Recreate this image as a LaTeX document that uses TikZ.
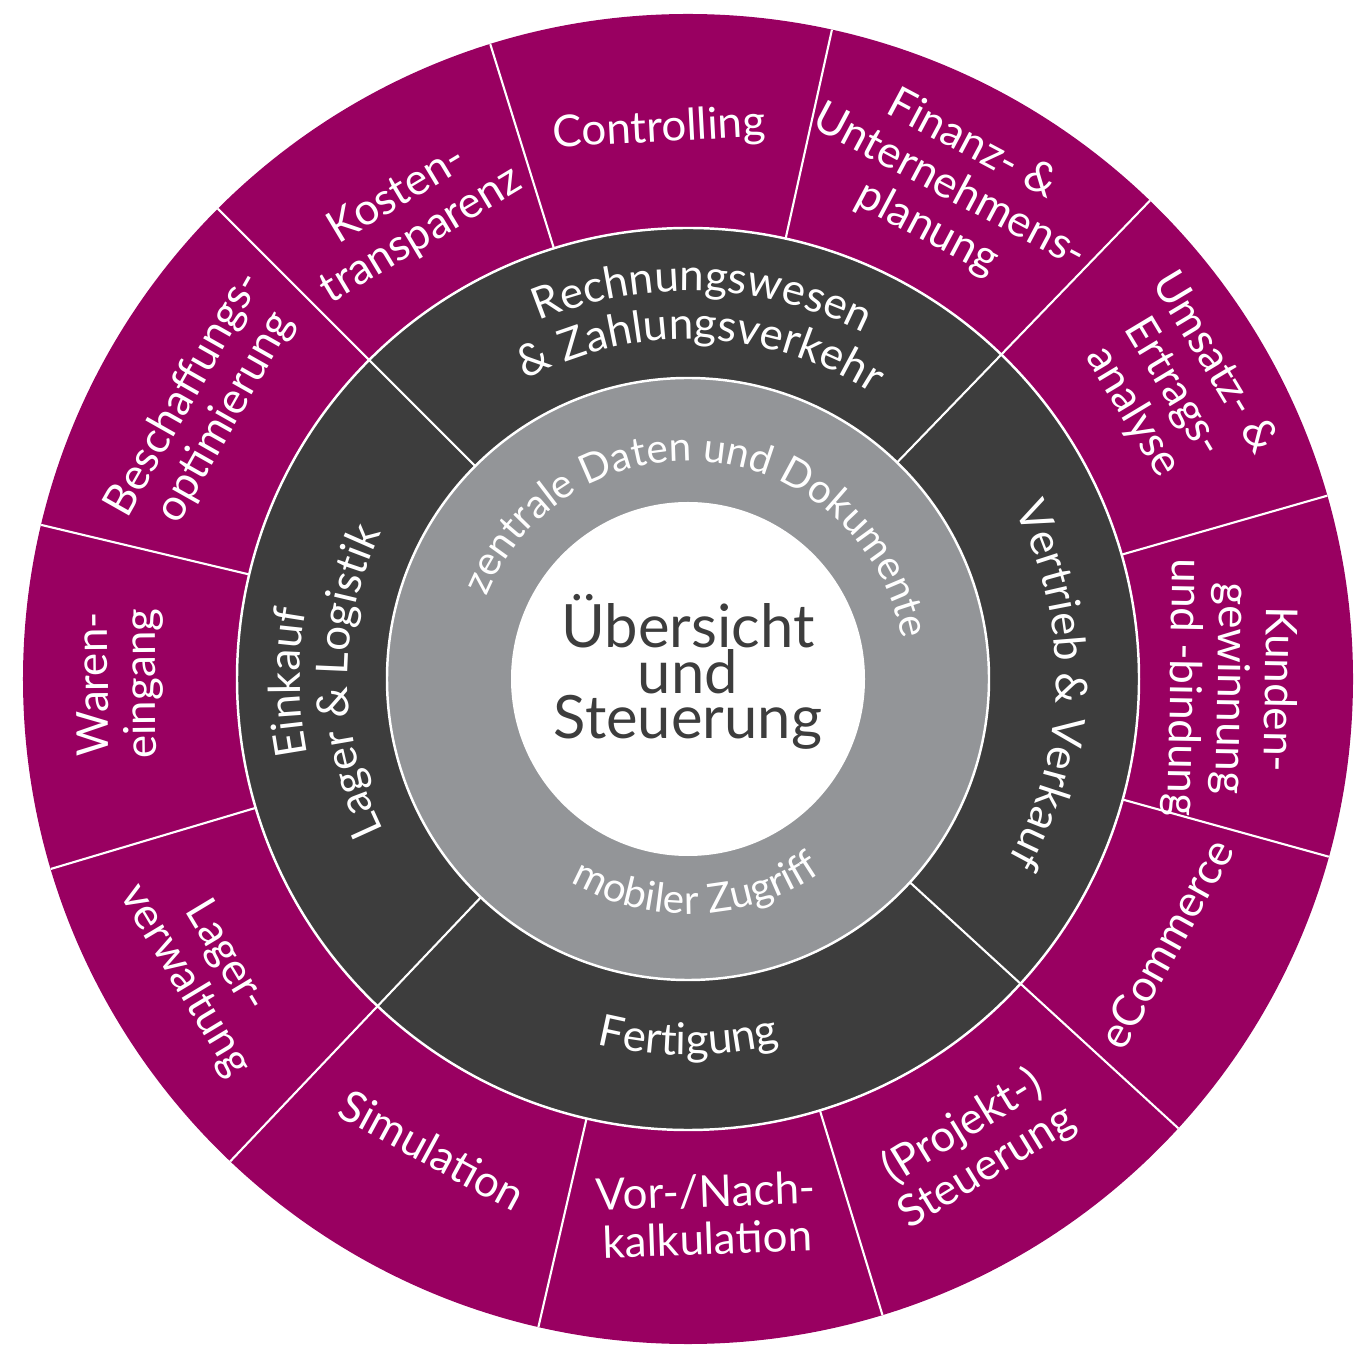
\documentclass[tikz,border=0pt]{standalone}
\usepackage{fontspec}
\setmainfont{Lato}
\definecolor{erpmagenta}{RGB}{153,0,97}
\definecolor{erpdark}{RGB}{61,61,61}
\definecolor{erpgray}{RGB}{147,149,152}
\newcommand{\RadCore}{1.77}
\newcommand{\RadData}{3.01}
\newcommand{\RadArea}{4.51}
\newcommand{\RadTask}{6.65}
\newcommand{\LabelFont}{\fontsize{12.5}{13.5}\selectfont}
\newcommand{\DataFont}{\fontsize{11.5}{14}\selectfont}

% text set letter by letter on an arc round the centre
% #1 font, #2 radius, #3 middle angle, #4 1 = clockwise / -1 = counterclockwise, #5 text (~ for spaces)
\newlength{\ArcCharWd}
\def\ArcEnd{\ArcEnd}
\def\ArcMeasure#1{\pgfinterruptpicture\setbox0=\hbox{\ArcFont#1}\global\ArcCharWd=\wd0\endpgfinterruptpicture}
\newcommand{\ArcText}[5]{%
  \def\ArcFont{#1}\def\ArcRad{#2}\def\ArcDir{#4}%
  \ArcMeasure{#5}%
  \pgfmathsetmacro{\ArcAngle}{#3 + #4*deg(\ArcCharWd/(#2*28.45274))/2}%
  \ArcNext#5\ArcEnd}
\def\ArcNext#1{\ifx#1\ArcEnd\else\ArcPut{#1}\expandafter\ArcNext\fi}
\def\ArcPut#1{%
  \ArcMeasure{#1}%
  \pgfmathsetmacro{\ArcMid}{\ArcAngle - \ArcDir*deg(\ArcCharWd/(\ArcRad*28.45274))/2}%
  \pgfmathsetmacro{\ArcRot}{\ArcMid - \ArcDir*90}%
  \node[text=white, font=\ArcFont, inner sep=0pt, anchor=base, rotate=\ArcRot] at (\ArcMid:\ArcRad) {#1};%
  \pgfmathsetmacro{\ArcAngle}{\ArcAngle - \ArcDir*deg(\ArcCharWd/(\ArcRad*28.45274))}}

\begin{document}
\begin{tikzpicture}[
  task/.style={text=white, font=\LabelFont, align=center, inner sep=0pt},
  divider/.style={white, line width=0.6pt}
  ]
\useasboundingbox (-6.88,-6.70) rectangle (6.70,6.79);

\fill[erpmagenta] (0,0) circle [radius=\RadTask];
\draw[white, line width=0.7pt, fill=erpdark] (0,0) circle [radius=\RadArea];
\draw[white, line width=0.7pt, fill=erpgray] (0,0) circle [radius=\RadData];
\fill[white] (0,0) circle [radius=\RadCore];

% outer ring
\draw[divider] (107.3:\RadArea) -- (107.3:\RadTask);
\draw[divider] (77.5:\RadArea) -- (77.5:\RadTask);
\draw[divider] (16:\RadArea) -- (16:\RadTask);
\draw[divider] (-15.5:\RadArea) -- (-15.5:\RadTask);
\draw[divider] (-73:\RadArea) -- (-73:\RadTask);
\draw[divider] (-103:\RadArea) -- (-103:\RadTask);
\draw[divider] (-163.4:\RadArea) -- (-163.4:\RadTask);
\draw[divider] (166.6:\RadArea) -- (166.6:\RadTask);
% middle ring
\draw[divider] (135:\RadData) -- (135:\RadTask);
\draw[divider] (46:\RadData) -- (46:\RadTask);
\draw[divider] (-42.5:\RadData) -- (-42.5:\RadTask);
\draw[divider] (-133.5:\RadData) -- (-133.5:\RadTask);

\node[task, rotate=3] (controlling) at (93:5.5) {Controlling};
\node[task, rotate=-28] (finanz) at (62:5.57) {Finanz- \&\\Unternehmens-\\planung};
\node[task, rotate=-59] (umsatz) at (31:5.66) {Umsatz- \&\\Ertrags-\\analyse};
\node[task, rotate=-91] (kunden) at (-1:5.42) {Kunden-\\gewinnung\\und -bindung};
\node[task, rotate=61] (ecommerce) at (-29:5.46) {eCommerce};
\node[task, rotate=31.5] (projekt) at (-58.5:5.49) {(Projekt-)\\Steuerung};
\node[task, rotate=2] (kalkulation) at (-88:5.36) {Vor-/Nach-\\kalkulation};
\node[task, rotate=-28.5] (simulation) at (-118.5:5.36) {Simulation};
\node[task, rotate=-59] (lager) at (-149:5.63) {Lager-\\verwaltung};
\node[task, rotate=90.5] (waren) at (180.5:5.68) {Waren-\\eingang};
\node[task, rotate=60.5] (beschaffung) at (150.5:5.55) {Beschaffungs-\\optimierung};
\node[task, rotate=31] (kosten) at (121:5.41) {Kosten-\\transparenz};

% areas
\ArcText{\LabelFont}{3.88}{88}{1}{Rechnungswesen}
\ArcText{\LabelFont}{3.40}{88}{1}{\&~Zahlungsverkehr}
\ArcText{\LabelFont}{3.68}{-0.5}{1}{Vertrieb~\&~Verkauf}
\ArcText{\LabelFont}{3.76}{-90}{-1}{Fertigung}
\ArcText{\LabelFont}{3.88}{180.5}{1}{Einkauf}
\ArcText{\LabelFont}{3.40}{180.5}{1}{Lager~\&~Logistik}

% data ring
\ArcText{\DataFont}{2.18}{84.5}{1}{zentrale~Daten~und~Dokumente}
\ArcText{\DataFont}{2.35}{-88}{-1}{mobiler~Zugriff}

\node[text=erpdark, font=\fontsize{17}{13}\selectfont, align=center] (core) at (0,0.07) {Übersicht\\und\\Steuerung};
\end{tikzpicture}
\end{document}
